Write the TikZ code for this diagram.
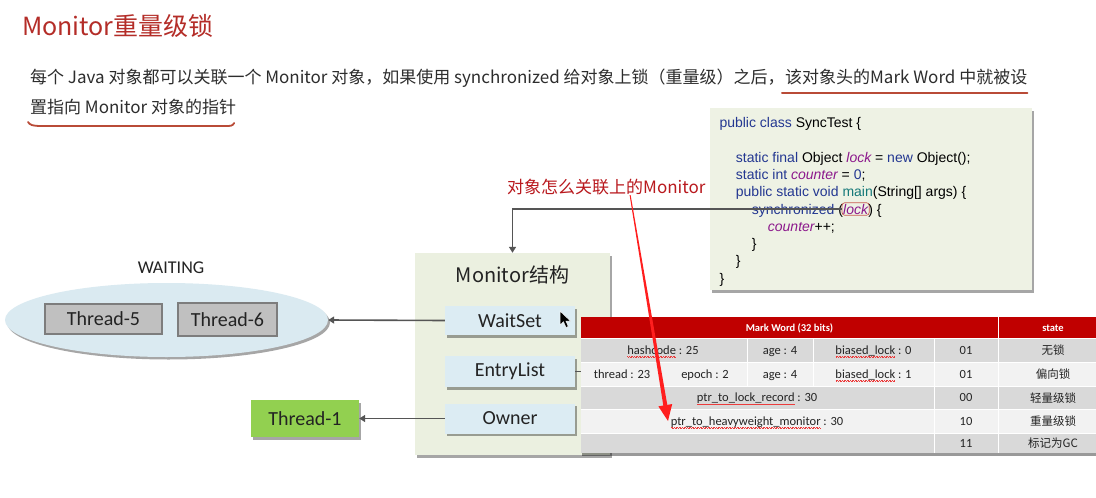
\documentclass[tikz,border=0pt]{standalone}
\usepackage{fontspec}
\setmainfont{Noto Sans CJK SC}
\newfontfamily\codefont{Liberation Sans}
\newfontfamily\calfont{Carlito}
\usetikzlibrary{shadows,arrows.meta,shapes.geometric}

\definecolor{titlered}{RGB}{180,45,40}
\definecolor{paratext}{RGB}{45,45,45}
\definecolor{ulinecol}{RGB}{185,75,55}
\definecolor{codebg}{RGB}{238,242,228}
\definecolor{kwblue}{RGB}{35,55,145}
\definecolor{pvpurple}{RGB}{140,25,140}
\definecolor{mteal}{RGB}{20,120,120}
\definecolor{labelred}{RGB}{185,25,30}
\definecolor{monbg}{RGB}{235,240,224}
\definecolor{subblue}{RGB}{220,236,243}
\definecolor{ellblue}{RGB}{218,234,241}
\definecolor{thgray}{RGB}{192,192,192}
\definecolor{thborder}{RGB}{125,125,125}
\definecolor{thgreen}{RGB}{146,208,80}
\definecolor{arrowgray}{RGB}{85,85,85}
\definecolor{hdrred}{RGB}{192,0,0}
\definecolor{rowgray}{RGB}{217,217,217}
\definecolor{rowlight}{RGB}{242,242,242}
\definecolor{arrred}{RGB}{255,30,30}
\definecolor{lockring}{RGB}{200,90,80}
\definecolor{celltext}{RGB}{35,35,35}
\definecolor{squig}{RGB}{235,60,60}

% code colouring
\newcommand\kw[1]{\textcolor{kwblue}{#1}}
\newcommand\pv[1]{\textcolor{pvpurple}{\itshape #1}}
\newcommand\mt[1]{\textcolor{mteal}{#1}}
% red spell-check squiggle under a word
\newsavebox\sqbox
\newcommand\sqw[1]{\sbox\sqbox{#1}\rlap{\hbox to \wd\sqbox{\color{squig}%
  \xleaders\hbox{\rule[-2.6pt]{0.8pt}{0.55pt}\rule[-3.3pt]{0.8pt}{0.55pt}}\hfill}}\usebox\sqbox}

\tikzset{
  shd/.style={drop shadow={shadow xshift=2pt,shadow yshift=-2.5pt,opacity=.35,fill=black}},
  para/.style={inner sep=0pt,text=paratext,font=\fontsize{17}{20}\selectfont},
  uline/.style={draw=ulinecol,line width=1.8pt,line cap=round},
  code/.style={inner sep=0pt,anchor=base west,font=\codefont\fontsize{14}{17}\selectfont},
  sub/.style={rectangle,inner sep=0pt,fill=subblue,shd,minimum width=130pt,
    font=\calfont\fontsize{20}{24}\selectfont,text=celltext},
  thr/.style={rectangle,inner sep=0pt,fill=thgray,draw=thborder,line width=1.4pt,
    font=\calfont\fontsize{20}{24}\selectfont,text=celltext},
  conn/.style={draw=arrowgray,line width=1.6pt,-{Triangle[length=6pt,width=7pt]}},
  cell/.style={inner sep=0pt,anchor=base,text=celltext,font=\calfont\fontsize{12.5}{15}\selectfont},
  cjkcell/.style={inner sep=0pt,anchor=base,text=celltext,font=\fontsize{11.5}{14}\selectfont},
  hcell/.style={inner sep=0pt,anchor=base,text=white,font=\calfont\bfseries\fontsize{10.5}{12}\selectfont},
  grid/.style={draw=white,line width=1pt}
}

\begin{document}
\begin{tikzpicture}[x=1pt,y=-1pt]
\useasboundingbox (0,0) rectangle (1096,498);
\fill[white] (0,0) rectangle (1096,498);

% heading and paragraph
\node[inner sep=0pt,anchor=base west,text=titlered,font=\fontsize{25}{30}\selectfont]
  (title) at (22,35) {Monitor重量级锁};
\node[para,anchor=base west] (p1a) at (30,83)
  {每个 Java 对象都可以关联一个 Monitor 对象，如果使用 synchronized 给对象上锁（重量级）之后，};
\node[para,anchor=base west] (p1b) at (p1a.base east) {该对象头的Mark Word 中就被设};
\node[para,anchor=base west] (p2) at (30,113) {置指向 Monitor 对象的指针};
\draw[uline] ([xshift=-3pt,yshift=-10pt]p1b.base west) -- ([yshift=-10pt]p1b.base east);
\draw[uline] ([xshift=-2pt,yshift=-9pt]p2.base west) .. controls +(2,3) and +(-10,0) ..
  ([xshift=12pt,yshift=-13pt]p2.base west) -- ([xshift=-8pt,yshift=-13pt]p2.base east)
  .. controls +(5,0) and +(-1,1) .. ([xshift=-2pt,yshift=-10pt]p2.base east);

% code sample
\node[rectangle,fill=codebg,shd,minimum width=322pt,minimum height=182pt,inner sep=0pt]
  (codebox) at (871,199) {};
\node[code] (c1) at (719.3,127.5) {\kw{public class} SyncTest \{};
\node[code] (c2) at (735.7,162) {\kw{static final} Object \pv{lock} = \kw{new} Object();};
\node[code] (c3) at (735.7,179.5) {\kw{static int} \pv{counter} = \kw{0};};
\node[code] (c4) at (735.7,196.5) {\kw{public static void} \mt{main}(String[] args) \{};
\node[code] (c5) at (751.7,214) {\kw{synchronized} (};
\node[code,inner sep=1.2pt,draw=lockring,line width=0.7pt,rounded corners=3pt]
  (lk) at ([xshift=-1.5pt]c5.base east) {\pv{lock}};
\node[code] (c5b) at ([xshift=-1.5pt]lk.base east) {) \{};
\node[code] (c6) at (767.7,231) {\pv{counter}++;};
\node[code] (c7) at (751.7,248) {\}};
\node[code] (c8) at (735.7,265.5) {\}};
\node[code] (c9) at (719.3,283) {\}};

% question label
\node[inner sep=0pt,anchor=base west,text=labelred,font=\fontsize{17}{20}\selectfont]
  (q) at (507,193) {对象怎么关联上的Monitor};

% monitor structure
\node[rectangle,fill=monbg,shd,minimum width=195pt,minimum height=202pt,inner sep=0pt]
  (mon) at (512.5,354) {};
\node[inner sep=0pt,anchor=base,text=celltext,font=\fontsize{20}{24}\selectfont]
  (montitle) at ([yshift=-30pt]mon.north) {Monitor结构};
\node[sub,minimum height=29pt] (ws) at (510,320.5) {WaitSet};
\node[sub,minimum height=31pt] (el) at (510,371.5) {EntryList};
\node[sub,minimum height=30pt] (own) at (510,418.5) {Owner};

% waiting threads and owner
\node[inner sep=0pt,anchor=base,text=celltext,font=\calfont\fontsize{18}{22}\selectfont]
  (waiting) at (171,273) {WAITING};
\node[ellipse,fill=ellblue,shd,minimum width=323pt,minimum height=74pt,inner sep=0pt]
  (ell) at (166.5,320) {};
\node[thr,minimum width=117pt,minimum height=30pt] (t5) at (103.5,319) {Thread-5};
\node[thr,minimum width=99pt,minimum height=33pt] (t6) at (227.5,319.5) {Thread-6};
\node[rectangle,fill=thgreen,shd,minimum width=108pt,minimum height=37pt,inner sep=0pt,
  font=\calfont\fontsize{20}{24}\selectfont,text=celltext] (t1) at (305,418.5) {Thread-1};

% connectors
\draw[conn] (lk.west) -| (mon.north);
\draw[conn] (ws.west) -- (ell.east);
\draw[conn] (own.west) -- (t1.east);
\coordinate (elstub) at (582,371.5);
\draw[draw=arrowgray,line width=1.6pt] (el.east) -- (elstub);

% pointer
\path[fill=black,draw=white,line width=0.5pt] (560,311) -- (560,325) -- (563.5,321.8)
  -- (566,327.5) -- (568.3,326.5) -- (565.9,321) -- (570.5,321) -- cycle;

% mark word table
\path[fill=rowgray,drop shadow={shadow xshift=1pt,shadow yshift=-3pt,opacity=.4,fill=black}]
  (581,317) rectangle (1096,453);
\fill[hdrred] (581,317) rectangle (1096,338);
\fill[rowgray] (581,338) rectangle (1096,362);
\fill[rowlight] (581,362) rectangle (1096,386);
\fill[rowgray] (581,386) rectangle (1096,409);
\fill[rowlight] (581,409) rectangle (1096,433);
\fill[rowgray] (581,433) rectangle (1096,453);
\foreach \yy in {338,362,386,409,433} \draw[grid] (581,\yy) -- (1096,\yy);
\draw[grid] (998,317) -- (998,453);
\draw[grid] (934,338) -- (934,453);
\draw[grid] (747,338) -- (747,386);
\draw[grid] (813,338) -- (813,386);

\node[hcell] (hmw) at (789.5,331) {Mark Word (32 bits)};
\node[hcell] (hst) at (1053,331) {state};

\node[cell] (r1a) at (663,354) {\sqw{hashcode} : 25};
\node[cell] (r1b) at (780,354) {age : 4};
\node[cell] (r1c) at (873.5,354) {\sqw{biased\_lock} : 0};
\node[cell] (r1d) at (966,354) {01};
\node[cjkcell] (r1e) at (1053,354.5) {无锁};

\node[cell] (r2a) at (622,378) {thread : 23};
\node[cell] (r2b) at (705,378) {epoch : 2};
\node[cell] (r2c) at (780,378) {age : 4};
\node[cell] (r2d) at (873.5,378) {\sqw{biased\_lock} : 1};
\node[cell] (r2e) at (966,378) {01};
\node[cjkcell] (r2f) at (1053,378.5) {偏向锁};

\node[cell] (r3a) at (757,401.5) {\sqw{ptr\_to\_lock\_record} : 30};
\node[cell] (r3b) at (966,401.5) {00};
\node[cjkcell] (r3c) at (1053,402) {轻量级锁};

\node[cell] (r4a) at (757,425) {\sqw{ptr\_to\_heavyweight\_monitor} : 30};
\node[cell] (r4b) at (966,425) {10};
\node[cjkcell] (r4c) at (1053,425.5) {重量级锁};

\node[cell] (r5a) at (966,447) {11};
\node[cjkcell] (r5b) at (1053,447.5) {标记为GC};

% red pointer from the question to the heavyweight monitor field
\coordinate (qs) at (630,195);
\coordinate (qt) at (668,421);
\fill[arrred] (629.6,195) -- (630.6,195) -- (667.3,404.9) -- (672.2,404.0) -- (qt)
  -- (658.4,406.4) -- (663.3,405.5) -- cycle;
\end{tikzpicture}
\end{document}
